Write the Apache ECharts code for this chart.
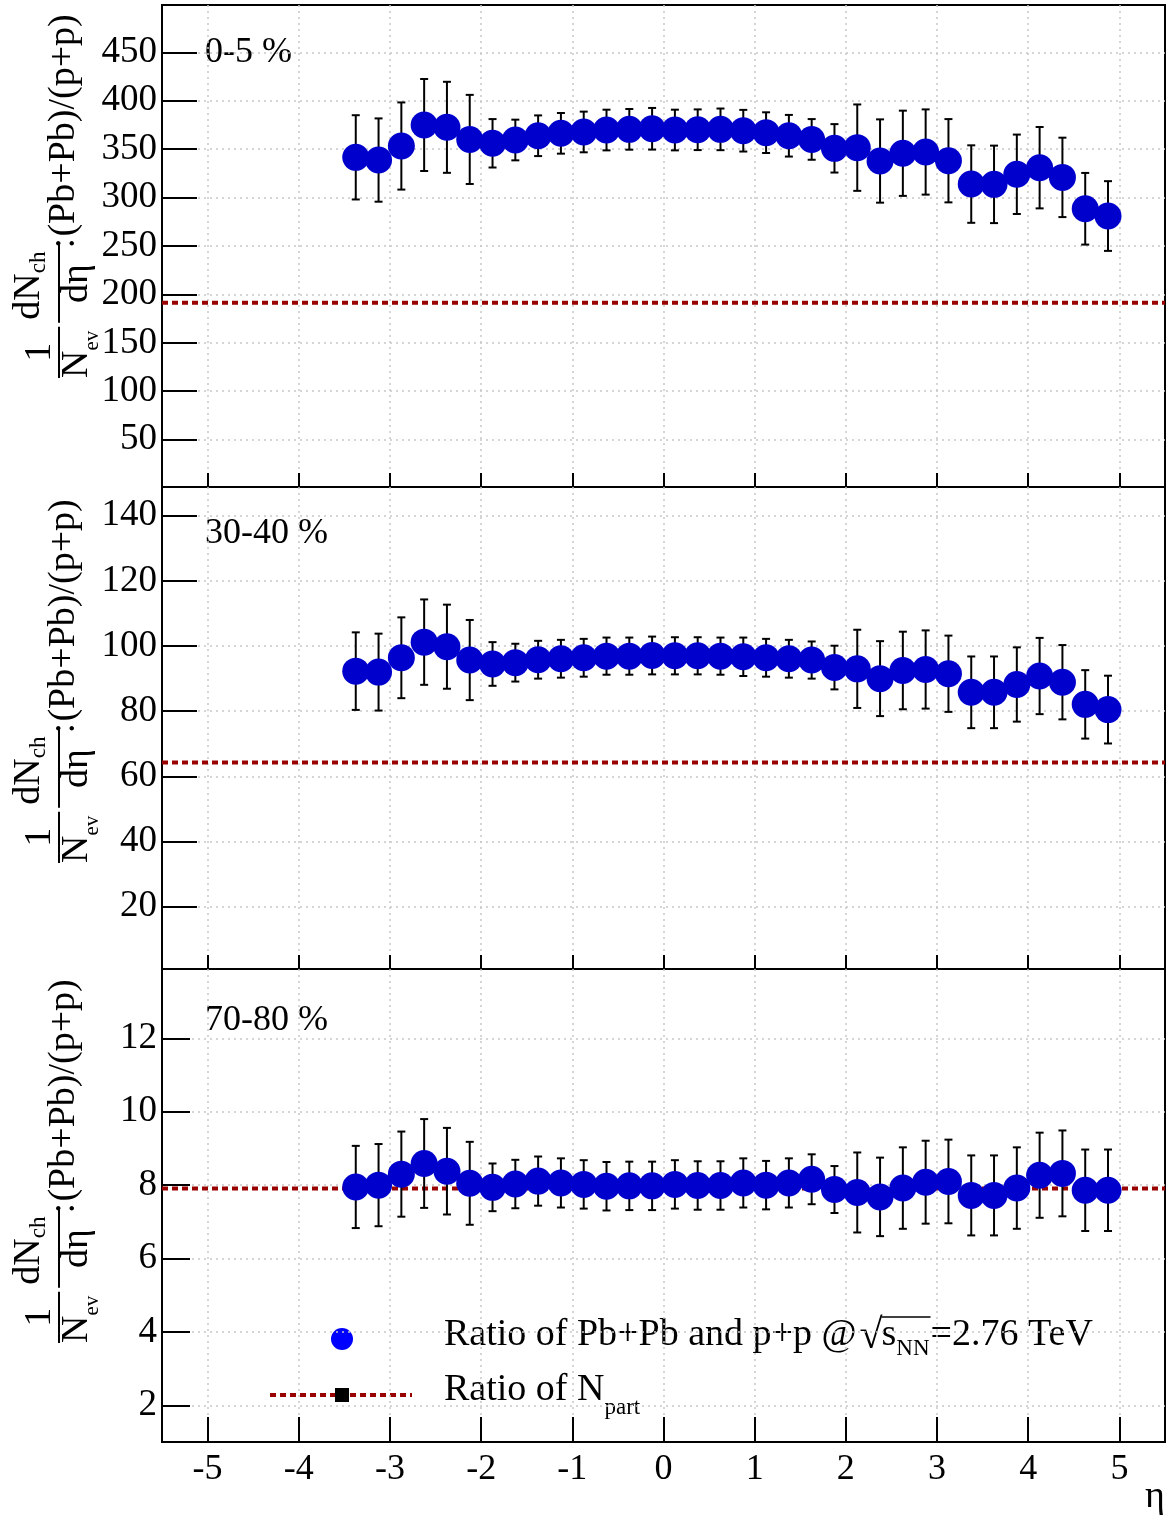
<!DOCTYPE html>
<html><head><meta charset="utf-8">
<script src="https://cdn.jsdelivr.net/npm/echarts@6/dist/echarts.min.js"></script>
<style>html,body{margin:0;padding:0;background:#fff}#c{width:1166px;height:1519px}</style>
</head><body><div id="c"></div><script>
// ---------------- data ----------------
const eta = [-3.375,-3.125,-2.875,-2.625,-2.375,-2.125,-1.875,-1.625,-1.375,-1.125,-0.875,-0.625,-0.375,-0.125,0.125,0.375,0.625,0.875,1.125,1.375,1.625,1.875,2.125,2.375,2.625,2.875,3.125,3.375,3.625,3.875,4.125,4.375,4.625,4.875];
const ratio0to5 = [341.5,338.7,353.2,374.9,372.5,360,356,359.4,363.8,366.3,367.7,369.7,370.4,371,369.7,370,370.4,369,367,363.8,360,350.8,351.5,337.7,345.7,347,338,313.9,313.6,324,330.8,320.8,288.4,280.9];
const err0to5 = [43.5,43,45,47.5,47,46,25,21,21,21,21,21,21,21.5,21,21,21.5,21.5,21,21.5,21,25,44.6,43,44,44,43,40,40,41,42,41,37,36];
const ratio30to40 = [92.3,92,96.4,101.2,99.8,95.7,94.5,94.9,95.8,96.1,96.4,96.9,96.9,97.1,97,97,96.9,96.7,96.4,96.1,95.7,93.4,93,90,92.5,92.8,91.5,85.8,85.8,88.2,90.8,88.9,82.1,80.5];
const err30to40 = [11.9,11.8,12.4,13.1,12.9,12.3,6.7,5.8,5.8,5.8,5.8,5.7,5.7,5.8,5.7,5.7,5.7,5.9,5.8,5.8,5.7,6.7,12,11.5,11.9,12,11.7,11,11,11.4,11.7,11.4,10.5,10.4];
const ratio70to80 = [7.95,8.0,8.30,8.59,8.38,8.05,7.94,8.03,8.11,8.06,8.02,7.97,7.98,7.98,8.02,7.99,7.99,8.06,8.0,8.06,8.16,7.88,7.80,7.68,7.92,8.08,8.10,7.72,7.72,7.92,8.27,8.32,7.86,7.86];
const err70to80 = [1.12,1.12,1.16,1.21,1.18,1.13,0.65,0.66,0.67,0.67,0.66,0.66,0.66,0.66,0.66,0.66,0.66,0.67,0.66,0.67,0.68,0.64,1.09,1.07,1.11,1.13,1.14,1.09,1.09,1.11,1.16,1.17,1.11,1.11];
const centralityLabels = ['0-5 %', '30-40 %', '70-80 %'];
const npartRatio = [191.4, 64.3, 7.91];
const yRanges = [[1.1, 498.8], [0.9, 148.8], [1.0, 13.89]];
const yTickSteps = [50, 20, 2];
const xRange = [-5.5, 5.5];
const xTickStep = 1;
const legendTexts = ['Ratio of Pb+Pb and p+p @', 's', 'NN', '=2.76 TeV', 'Ratio of N', 'part'];
const xAxisTitle = 'η';

// ---------------- layout ----------------
const FONT = 'Liberation Serif';
const seriesValues = [ratio0to5, ratio30to40, ratio70to80];
const seriesErrors = [err0to5, err30to40, err70to80];
const panels = [
  {top: 5,   height: 482, ytick: 35, xtick: 14, labelY: 53,   titleY0: 380},
  {top: 487, height: 482, ytick: 35, xtick: 14, labelY: 534,  titleY0: 865},
  {top: 969, height: 473, ytick: 28, xtick: 25, labelY: 1021, titleY0: 1345}
];

const mctx = document.createElement('canvas').getContext('2d');
function tw(t, s) { mctx.font = s + 'px "' + FONT + '"'; return mctx.measureText(t).width; }
function txt(x, y, t, s, align, extra) {
  return Object.assign({type: 'text', x: x, y: y, silent: true,
    style: {text: t, fontSize: s, fontFamily: FONT, fill: '#000', align: align || 'left', verticalAlign: 'middle'}}, extra || {});
}
function isStep(v, st) { const r = v / st; return Math.abs(r - Math.round(r)) < 1e-6; }

const grids = [], xAxes = [], yAxes = [], series = [], graphics = [];
panels.forEach((p, i) => {
  grids.push({left: 162, width: 1003, top: p.top, height: p.height, show: true,
    borderColor: '#000', borderWidth: 2, backgroundColor: 'transparent', containLabel: false, outerBoundsMode: 'none'});
  xAxes.push({type: 'value', gridIndex: i, position: 'bottom', min: xRange[0], max: xRange[1], splitNumber: 11,
    minInterval: xTickStep, maxInterval: xTickStep,
    axisLine: {show: false, onZero: false},
    axisTick: {show: true, inside: true, length: p.xtick, lineStyle: {color: '#000', width: 2}},
    axisLabel: {show: i === 2, showMinLabel: false, showMaxLabel: false, margin: 10,
      fontSize: 36, fontFamily: FONT, color: '#000',
      formatter: v => isStep(v, xTickStep) ? String(Math.round(v)) : ''},
    splitLine: {show: true, showMinLine: false, showMaxLine: false,
      lineStyle: {color: '#c8c8c8', type: [2, 4], width: 1.5}}});
  yAxes.push({type: 'value', gridIndex: i, position: 'left', min: yRanges[i][0], max: yRanges[i][1],
    splitNumber: 8, minInterval: yTickSteps[i], maxInterval: yTickSteps[i],
    axisLine: {show: false, onZero: false},
    axisTick: {show: true, inside: true, length: p.ytick, lineStyle: {color: '#000', width: 2}},
    axisLabel: {show: true, showMinLabel: false, showMaxLabel: false, margin: 5,
      fontSize: 37, fontFamily: FONT, color: '#000',
      formatter: v => isStep(v, yTickSteps[i]) ? String(Math.round(v)) : ''},
    splitLine: {show: true, showMinLine: false, showMaxLine: false,
      lineStyle: {color: '#c8c8c8', type: [2, 4], width: 1.5}}});
  series.push({type: 'line', xAxisIndex: i, yAxisIndex: i, silent: true, symbol: 'none', z: 1,
    data: [[xRange[0], npartRatio[i]], [xRange[1], npartRatio[i]]],
    lineStyle: {color: '#990000', width: 4, type: [6, 4]}});
  series.push({type: 'custom', xAxisIndex: i, yAxisIndex: i, silent: true, z: 2,
    encode: {x: 0, y: 1},
    data: eta.map((x, k) => [x, seriesValues[i][k], seriesErrors[i][k]]),
    renderItem: function (params, api) {
      const x = api.value(0), y = api.value(1), e = api.value(2);
      const t = api.coord([x, y + e]), b = api.coord([x, y - e]);
      const hw = 4, st = {stroke: '#000', lineWidth: 2};
      return {type: 'group', children: [
        {type: 'line', shape: {x1: t[0], y1: t[1], x2: b[0], y2: b[1]}, style: st},
        {type: 'line', shape: {x1: t[0] - hw, y1: t[1], x2: t[0] + hw, y2: t[1]}, style: st},
        {type: 'line', shape: {x1: b[0] - hw, y1: b[1], x2: b[0] + hw, y2: b[1]}, style: st}
      ]};
    }});
  series.push({type: 'scatter', xAxisIndex: i, yAxisIndex: i, silent: true, z: 3,
    symbol: 'circle', symbolSize: 27, itemStyle: {color: '#0000cc', opacity: 1},
    data: eta.map((x, k) => [x, seriesValues[i][k]])});

  // centrality label
  graphics.push(txt(205, p.labelY, centralityLabels[i], 36));

  // rotated y-axis title: 1/N_ev dN_ch/deta : (Pb+Pb)/(p+p)
  const S = 38;
  const ch = [];
  const nW = tw('N', S), evW = tw('ev', 21);
  const f1s = 2, f1e = f1s + nW + evW + 4;
  ch.push({type: 'rect', shape: {x: f1s, y: 58, width: f1e - f1s, height: 2}, style: {fill: '#000'}});
  ch.push(txt((f1s + f1e) / 2, 40, '1', S, 'center'));
  ch.push(txt(f1s, 77, 'N', S));
  ch.push(txt(f1s + nW, 92, 'ev', 21));
  const dNW = tw('dN', S), chW = tw('ch', 23);
  const f2s = f1e + 4, f2e = f2s + dNW + chW + 10;
  ch.push({type: 'rect', shape: {x: f2s, y: 58, width: f2e - f2s, height: 2}, style: {fill: '#000'}});
  ch.push(txt(f2s + 3, 29, 'dN', S));
  ch.push(txt(f2s + 3 + dNW, 39, 'ch', 23));
  ch.push(txt((f2s + f2e) / 2, 77, 'dη', S, 'center'));
  ch.push(txt(f2e - 4, 64, ':', S));
  ch.push(txt(f2e + 8, 64, '(Pb+Pb)/(p+p)', S));
  graphics.push({type: 'group', x: 0, y: p.titleY0, rotation: Math.PI / 2, children: ch});
});

// x axis title
graphics.push(txt(1155, 1497, xAxisTitle, 38, 'center'));

// legend
(function () {
  const S = 38, y1 = 1335, y2 = 1390;
  graphics.push({type: 'circle', shape: {cx: 342, cy: 1339, r: 11}, style: {fill: '#0000ff'}, silent: true});
  graphics.push({type: 'line', shape: {x1: 270, y1: 1395, x2: 412, y2: 1395},
    style: {stroke: '#990000', lineWidth: 4, lineDash: [6, 4]}, silent: true});
  graphics.push({type: 'rect', shape: {x: 335, y: 1388, width: 14, height: 14}, style: {fill: '#000'}, silent: true});
  let x = 444;
  graphics.push(txt(x, y1, legendTexts[0], S)); x += tw(legendTexts[0], S) + 3;
  graphics.push(txt(x, y1 + 2, '√', 42)); x += tw('√', 42) - 1;
  const ovStart = x;
  graphics.push(txt(x, y1, legendTexts[1], S)); x += tw(legendTexts[1], S);
  graphics.push(txt(x, y1 + 14, legendTexts[2], 23)); x += tw(legendTexts[2], 23) + 1;
  graphics.push({type: 'line', shape: {x1: ovStart, y1: 1317, x2: x, y2: 1317}, style: {stroke: '#000', lineWidth: 1.5}, silent: true});
  graphics.push(txt(x, y1, legendTexts[3], S));
  let x2 = 444;
  graphics.push(txt(x2, y2, legendTexts[4], S)); x2 += tw(legendTexts[4], S);
  graphics.push(txt(x2, y2 + 18, legendTexts[5], 23));
})();

const chart = echarts.init(document.getElementById('c'), null, {renderer: 'canvas'});
chart.setOption({
  animation: false,
  backgroundColor: '#fff',
  grid: grids, xAxis: xAxes, yAxis: yAxes, series: series,
  graphic: {elements: graphics}
});
</script></body></html>
